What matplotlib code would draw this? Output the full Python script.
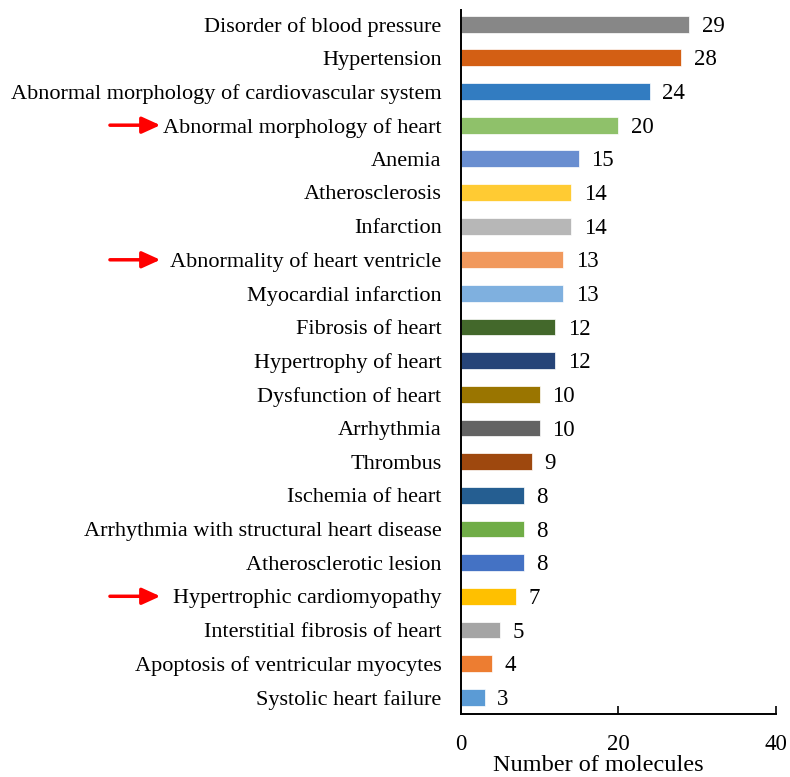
import matplotlib.pyplot as plt

plt.rcParams['font.family'] = ['Liberation Serif', 'DejaVu Serif']

# categories top to bottom
categories = [
    'Disorder of blood pressure', 'Hypertension',
    'Abnormal morphology of cardiovascular system', 'Abnormal morphology of heart',
    'Anemia', 'Atherosclerosis', 'Infarction', 'Abnormality of heart ventricle',
    'Myocardial infarction', 'Fibrosis of heart', 'Hypertrophy of heart',
    'Dysfunction of heart', 'Arrhythmia', 'Thrombus', 'Ischemia of heart',
    'Arrhythmia with structural heart disease', 'Atherosclerotic lesion',
    'Hypertrophic cardiomyopathy', 'Interstitial fibrosis of heart',
    'Apoptosis of ventricular myocytes', 'Systolic heart failure',
]
counts = [29, 28, 24, 20, 15, 14, 14, 13, 13, 12, 12, 10, 10, 9, 8, 8, 8, 7, 5, 4, 3]
colors = [
    '#878787', '#D35F14', '#327CC1', '#8FC16A', '#698ED0', '#FFCB33', '#B7B7B7',
    '#F1995D', '#7FB0DF', '#43682B', '#264478', '#9A7500', '#636363', '#9E480E',
    '#255E91', '#70AD47', '#4472C4', '#FFC000', '#A5A5A5', '#ED7D31', '#5B9BD5',
]
# rows marked with a red arrow
arrow_rows = ['Abnormal morphology of heart', 'Abnormality of heart ventricle',
              'Hypertrophic cardiomyopathy']

n = len(categories)
ypos = list(range(n - 1, -1, -1))

fig = plt.figure(figsize=(7.9, 7.77), dpi=100)
ax = fig.add_axes([0.5835, 0.081, 0.3985, 0.906])

ax.barh(ypos, counts, height=0.5, color=colors, edgecolor='white', linewidth=0.5)
for y, v in zip(ypos, counts):
    ax.annotate(str(v), (v, y), xytext=(9, -1.5), textcoords='offset points',
                va='center', ha='left', fontsize=16.5)

ax.set_yticks(ypos)
ax.set_yticklabels(categories, fontsize=16)
ax.tick_params(axis='y', length=0, pad=14)
ax.set_xlim(0, 40)
ax.set_ylim(-0.5, n - 1 + 0.42)
ax.set_xticks([0, 20, 40])
ax.tick_params(axis='x', direction='in', length=6, width=1.2, labelsize=16.5, pad=14)
ax.set_xlabel('Number of molecules', fontsize=17.5)
ax.xaxis.set_label_coords(0.435, -0.058)

for s in ['top', 'right']:
    ax.spines[s].set_visible(False)
for s in ['left', 'bottom']:
    ax.spines[s].set_linewidth(1.4)
    ax.spines[s].set_color('black')

for name in arrow_rows:
    y = ypos[categories.index(name)]
    ax.annotate('', xy=(-0.955, y), xycoords=('axes fraction', 'data'),
                xytext=(-1.115, y), textcoords=('axes fraction', 'data'),
                arrowprops=dict(arrowstyle='-|>,head_length=1.1,head_width=0.5',
                                color='#FF0000', lw=2.5, shrinkA=0, shrinkB=0),
                annotation_clip=False)

fig.savefig('out.png', dpi=100)
